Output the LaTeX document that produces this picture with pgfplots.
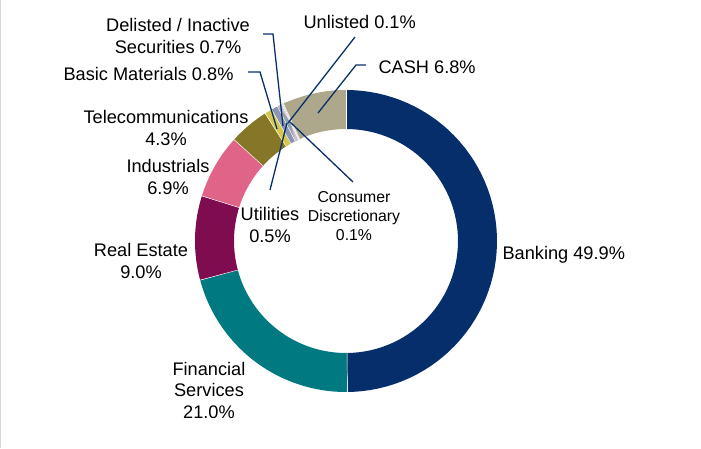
\documentclass[border=0pt]{standalone}
\usepackage{pgfplots}
\pgfplotsset{compat=1.18}
\usepackage{pgfplotstable}
\usepackage{fontspec}
\setmainfont{Liberation Sans}

\definecolor{cBank}{RGB}{6,46,106}
\definecolor{cFin}{RGB}{0,122,128}
\definecolor{cRE}{RGB}{128,12,80}
\definecolor{cInd}{RGB}{224,100,135}
\definecolor{cTel}{RGB}{133,118,40}
\definecolor{cBas}{RGB}{215,200,75}
\definecolor{cDel}{RGB}{140,148,180}
\definecolor{cUti}{RGB}{140,165,170}
\definecolor{cUnl}{RGB}{230,160,185}
\definecolor{cCon}{RGB}{195,195,210}
\definecolor{cCash}{RGB}{173,168,140}
\definecolor{cLine}{RGB}{10,47,107}

% sector shares in percent, clockwise from 12 o'clock
\pgfplotstableread[col sep=comma]{
sector,share,color
Banking,49.9,cBank
Financial Services,21.0,cFin
Real Estate,9.0,cRE
Industrials,6.9,cInd
Telecommunications,4.3,cTel
Basic Materials,0.8,cBas
Delisted / Inactive Securities,0.7,cDel
Utilities,0.5,cUti
Unlisted,0.1,cUnl
Consumer Discretionary,0.1,cCon
CASH,6.8,cCash
}\donut

\newcommand{\lab}{\fontsize{18.2}{21.5}\selectfont}
\newcommand{\slab}{\fontsize{15.8}{18.6}\selectfont}

\begin{document}
\begin{tikzpicture}
\useasboundingbox (0,0) rectangle (701pt,448pt);
\begin{axis}[
  at={(0,0)}, anchor=south west,
  scale only axis, width=701pt, height=448pt,
  xmin=0, xmax=701, ymin=0, ymax=448, y dir=reverse,
  hide axis, clip=false,
]
\pgfplotstablegetrowsof{\donut}
\pgfmathtruncatemacro{\nrows}{\pgfplotsretval-1}
% total
\xdef\total{0}
\foreach \i in {0,...,\nrows}{%
  \pgfplotstablegetelem{\i}{share}\of\donut
  \xdef\total{\fpeval{\total+\pgfplotsretval}}%
}
% segments
\xdef\cum{0}
\foreach \i in {0,...,\nrows}{%
  \pgfplotstablegetelem{\i}{share}\of\donut \let\sh\pgfplotsretval
  \pgfplotstablegetelem{\i}{color}\of\donut \let\col\pgfplotsretval
  \pgfmathsetmacro{\aa}{\cum/\total*360}%
  \pgfmathsetmacro{\bb}{(\cum+\sh)/\total*360}%
  \xdef\cum{\fpeval{\cum+\sh}}%
  \edef\tmp{\noexpand\addplot[draw=\col, line width=39pt, domain=\aa:\bb, samples=60]
     ({346+131.5*sin(x)},{241-131.5*cos(x)});}%
  \tmp
}
% thin white separators
\xdef\cum{0}
\foreach \i in {0,...,\nrows}{%
  \pgfplotstablegetelem{\i}{share}\of\donut \let\sh\pgfplotsretval
  \pgfmathsetmacro{\aa}{\cum/\total*360}%
  \xdef\cum{\fpeval{\cum+\sh}}%
  \pgfmathsetmacro{\xa}{346+111.5*sin(\aa)}%
  \pgfmathsetmacro{\ya}{241-111.5*cos(\aa)}%
  \pgfmathsetmacro{\xb}{346+151.5*sin(\aa)}%
  \pgfmathsetmacro{\yb}{241-151.5*cos(\aa)}%
  \edef\tmp{\noexpand\addplot[white, line width=0.45pt] coordinates {(\xa,\ya) (\xb,\yb)};}%
  \tmp
}
% left frame edge
\addplot[black!15, line width=1pt] coordinates {(0.5,0) (0.5,448)};

% leader lines
\addplot[cLine, line width=1.3pt] coordinates {(263,34) (273,34) (283,126)};
\addplot[cLine, line width=1.3pt] coordinates {(248,72) (260,72) (277,129)};
\addplot[cLine, line width=1.3pt] coordinates {(355,37) (288,123)};
\addplot[cLine, line width=1.3pt] coordinates {(366,65) (356,65) (318,113)};
\addplot[cLine, line width=1.3pt] coordinates {(270,190) (287,123)};
\addplot[cLine, line width=1.3pt] coordinates {(353,182) (290,122)};

% labels (multi-line nodes: base = baseline of last line)
\node[anchor=base, align=center, font=\lab] at (axis cs:178,53) {Delisted / Inactive\\Securities 0.7\%};
\node[anchor=base west, font=\lab] at (axis cs:300,28) {Unlisted 0.1\%};
\node[anchor=base west, font=\lab] at (axis cs:375,73) {CASH 6.8\%};
\node[anchor=base east, font=\lab] at (axis cs:237,80) {Basic Materials 0.8\%};
\node[anchor=base, align=center, font=\lab] at (axis cs:166,145) {Telecommunications\\4.3\%};
\node[anchor=base, align=center, font=\lab] at (axis cs:168,194) {Industrials\\6.9\%};
\node[anchor=base, align=center, font=\lab] at (axis cs:141,278) {Real Estate\\9.0\%};
\node[anchor=base, align=center, font=\lab] at (axis cs:209,418) {Financial\\Services\\21.0\%};
\node[anchor=base west, font=\lab] at (axis cs:499,259) {Banking 49.9\%};
\node[anchor=base, align=center, font=\lab] at (axis cs:270,242) {Utilities\\0.5\%};
\node[anchor=base, align=center, font=\slab] at (axis cs:354,240) {Consumer\\Discretionary\\0.1\%};
\end{axis}
\end{tikzpicture}
\end{document}
